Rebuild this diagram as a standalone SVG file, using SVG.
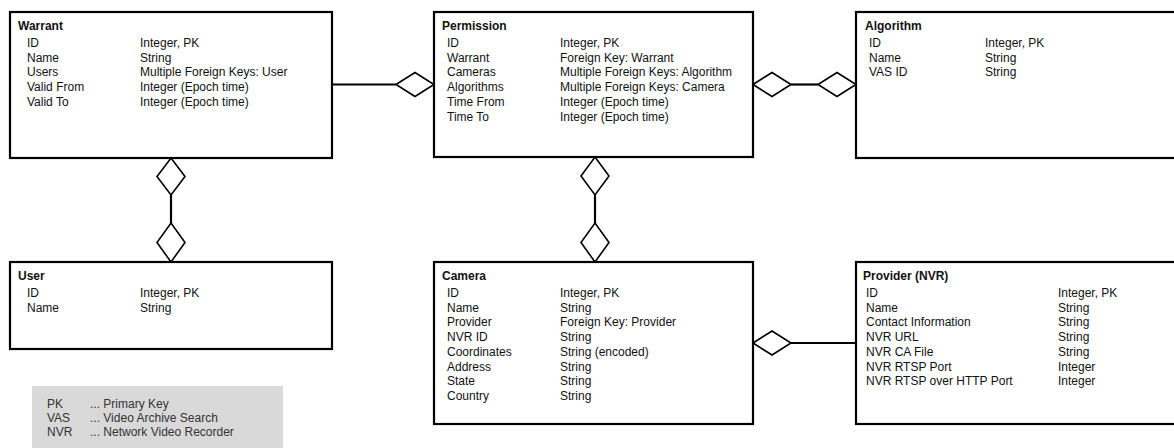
<svg xmlns="http://www.w3.org/2000/svg" width="1174" height="448" viewBox="0 0 1174 448">
<style>
.box{fill:#fff;stroke:#000;stroke-width:2.2}
.t{font-family:"Liberation Sans",Arial,sans-serif;font-size:12px;fill:#111}
.h{font-family:"Liberation Sans",Arial,sans-serif;font-size:12px;font-weight:bold;fill:#111}
.ln{stroke:#000;stroke-width:2.2;fill:none}
.dm{fill:#fff;stroke:#000;stroke-width:1.6}
.lg{font-family:"Liberation Sans",Arial,sans-serif;font-size:12px;fill:#333}
</style>
<rect width="1174" height="448" fill="#fff"/>
<g id="connectors">
<line class="ln" x1="332" y1="84.5" x2="396" y2="84.5"/>
<polygon class="dm" points="396,84.5 415,72.5 434,84.5 415,96.5"/>
<line class="ln" x1="791" y1="84.5" x2="818" y2="84.5"/>
<polygon class="dm" points="753,84.5 772,72.5 791,84.5 772,96.5"/>
<polygon class="dm" points="818,84.5 837,72.5 856,84.5 837,96.5"/>
<line class="ln" x1="171" y1="195" x2="171" y2="223"/>
<polygon class="dm" points="171,158 185,176.5 171,195 157,176.5"/>
<polygon class="dm" points="171,223 185,242.5 171,262 157,242.5"/>
<line class="ln" x1="595" y1="195" x2="595" y2="223"/>
<polygon class="dm" points="595,157 609,176 595,195 581,176"/>
<polygon class="dm" points="595,223 609,242.5 595,262 581,242.5"/>
<line class="ln" x1="791" y1="343" x2="856" y2="343"/>
<polygon class="dm" points="753,343 772,331 791,343 772,355"/>
</g>
<g id="warrant">
<rect class="box" x="10" y="12" width="322" height="146"/>
<text class="h" x="18" y="30">Warrant</text>
<text class="t" x="27" y="47">ID</text><text class="t" x="140" y="47">Integer, PK</text>
<text class="t" x="27" y="61.7">Name</text><text class="t" x="140" y="61.7">String</text>
<text class="t" x="27" y="76.4">Users</text><text class="t" x="140" y="76.4">Multiple Foreign Keys: User</text>
<text class="t" x="27" y="91.1">Valid From</text><text class="t" x="140" y="91.1">Integer (Epoch time)</text>
<text class="t" x="27" y="105.8">Valid To</text><text class="t" x="140" y="105.8">Integer (Epoch time)</text>
</g>
<g id="permission">
<rect class="box" x="434" y="12" width="319" height="145"/>
<text class="h" x="442" y="30">Permission</text>
<text class="t" x="447" y="47">ID</text><text class="t" x="560" y="47">Integer, PK</text>
<text class="t" x="447" y="61.7">Warrant</text><text class="t" x="560" y="61.7">Foreign Key: Warrant</text>
<text class="t" x="447" y="76.4">Cameras</text><text class="t" x="560" y="76.4">Multiple Foreign Keys: Algorithm</text>
<text class="t" x="447" y="91.1">Algorithms</text><text class="t" x="560" y="91.1">Multiple Foreign Keys: Camera</text>
<text class="t" x="447" y="105.8">Time From</text><text class="t" x="560" y="105.8">Integer (Epoch time)</text>
<text class="t" x="447" y="120.5">Time To</text><text class="t" x="560" y="120.5">Integer (Epoch time)</text>
</g>
<g id="algorithm">
<rect class="box" x="856" y="12" width="330" height="146"/>
<text class="h" x="865" y="30">Algorithm</text>
<text class="t" x="869" y="47">ID</text><text class="t" x="985" y="47">Integer, PK</text>
<text class="t" x="869" y="61.7">Name</text><text class="t" x="985" y="61.7">String</text>
<text class="t" x="869" y="76.4">VAS ID</text><text class="t" x="985" y="76.4">String</text>
</g>
<g id="user">
<rect class="box" x="10" y="262" width="322" height="87"/>
<text class="h" x="18" y="280">User</text>
<text class="t" x="27" y="297">ID</text><text class="t" x="140" y="297">Integer, PK</text>
<text class="t" x="27" y="311.7">Name</text><text class="t" x="140" y="311.7">String</text>
</g>
<g id="camera">
<rect class="box" x="434" y="262" width="319" height="162"/>
<text class="h" x="442" y="280">Camera</text>
<text class="t" x="447" y="297">ID</text><text class="t" x="560" y="297">Integer, PK</text>
<text class="t" x="447" y="311.7">Name</text><text class="t" x="560" y="311.7">String</text>
<text class="t" x="447" y="326.4">Provider</text><text class="t" x="560" y="326.4">Foreign Key: Provider</text>
<text class="t" x="447" y="341.1">NVR ID</text><text class="t" x="560" y="341.1">String</text>
<text class="t" x="447" y="355.8">Coordinates</text><text class="t" x="560" y="355.8">String (encoded)</text>
<text class="t" x="447" y="370.5">Address</text><text class="t" x="560" y="370.5">String</text>
<text class="t" x="447" y="385.2">State</text><text class="t" x="560" y="385.2">String</text>
<text class="t" x="447" y="399.9">Country</text><text class="t" x="560" y="399.9">String</text>
</g>
<g id="provider">
<rect class="box" x="856" y="262" width="330" height="162"/>
<text class="h" x="863" y="280">Provider (NVR)</text>
<text class="t" x="866" y="297">ID</text><text class="t" x="1058" y="297">Integer, PK</text>
<text class="t" x="866" y="311.7">Name</text><text class="t" x="1058" y="311.7">String</text>
<text class="t" x="866" y="326.4">Contact Information</text><text class="t" x="1058" y="326.4">String</text>
<text class="t" x="866" y="341.1">NVR URL</text><text class="t" x="1058" y="341.1">String</text>
<text class="t" x="866" y="355.8">NVR CA File</text><text class="t" x="1058" y="355.8">String</text>
<text class="t" x="866" y="370.5">NVR RTSP Port</text><text class="t" x="1058" y="370.5">Integer</text>
<text class="t" x="866" y="385.2">NVR RTSP over HTTP Port</text><text class="t" x="1058" y="385.2">Integer</text>
</g>
<g id="legend">
<rect x="32" y="386" width="251" height="62" fill="#d9d9d9"/>
<text class="lg" x="47" y="408">PK</text><text class="lg" x="90" y="408">... Primary Key</text>
<text class="lg" x="47" y="422">VAS</text><text class="lg" x="90" y="422">... Video Archive Search</text>
<text class="lg" x="47" y="436">NVR</text><text class="lg" x="90" y="436">... Network Video Recorder</text>
</g>
</svg>
